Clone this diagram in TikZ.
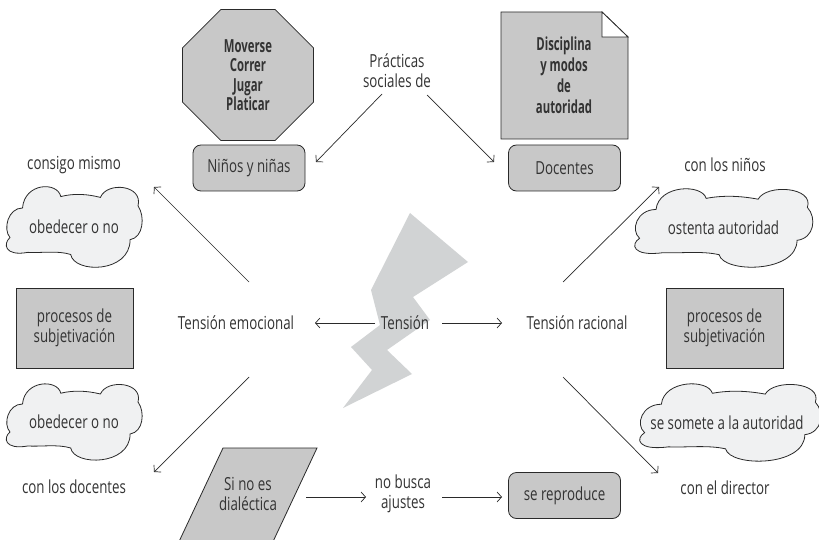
\documentclass[tikz,border=0pt]{standalone}
\usepackage{fontspec}
\setmainfont[FakeStretch=0.74, BoldFeatures={FakeStretch=0.63}]{Open Sans}
\usetikzlibrary{shapes.geometric,arrows.meta}
\definecolor{boxgray}{HTML}{C8C8C8}
\definecolor{cloudgray}{HTML}{F0F1F2}
\definecolor{boltgray}{HTML}{D1D3D4}
\definecolor{txtc}{HTML}{333333}
\definecolor{linec}{HTML}{2A2A2A}
\tikzset{
  lbl/.style={text=txtc, align=center, inner sep=0pt, font=\fontsize{18}{20}\selectfont},
  boldlbl/.style={lbl, font=\fontsize{18}{19.5}\selectfont\bfseries},
  rbox/.style={lbl, fill=boxgray, draw=linec, line width=0.8pt, rounded corners=8pt, minimum width=112pt, minimum height=46pt},
  sbox/.style={lbl, fill=boxgray, draw=linec, line width=0.8pt, minimum width=117pt, minimum height=80pt},
  octo/.style={boldlbl, regular polygon, regular polygon sides=8, minimum size=141.8pt, fill=boxgray, draw=linec, line width=0.8pt},
  arr/.style={draw=linec, line width=0.7pt, -{Straight Barb[length=4.5pt,width=10pt]}},
  shapeline/.style={fill=boxgray, draw=linec, line width=0.8pt},
  cloudline/.style={fill=cloudgray, draw=linec, line width=0.8pt}
}
\newcommand{\mycloud}[4]{%
  \begin{scope}[shift={(#1,#2)}, xscale=#3/2, yscale=#4/1.75]
    \path[cloudline] (-0.97,0.25)
      .. controls (-1.08,0.05) and (-1.0,-0.45) .. (-0.78,-0.45)
      .. controls (-0.75,-1.05) and (-0.25,-1.08) .. (-0.20,-0.72)
      .. controls (0.0,-0.80) and (0.2,-0.78) .. (0.40,-0.70)
      .. controls (0.50,-1.08) and (1.05,-1.0) .. (0.97,-0.50)
      .. controls (1.08,-0.25) and (1.05,0.25) .. (0.85,0.30)
      .. controls (0.85,1.10) and (0.0,1.10) .. (-0.05,0.65)
      .. controls (-0.25,0.55) and (-0.5,0.62) .. (-0.70,0.60)
      .. controls (-1.05,0.70) and (-1.08,0.40) .. (-0.97,0.25) -- cycle;
  \end{scope}}
\begin{document}
\begin{tikzpicture}[x=1pt,y=-1pt]
\useasboundingbox (0,0) rectangle (819,540);
\fill[white] (0,0) rectangle (819,540);
% lightning bolt
\fill[boltgray] (410,213) -- (468,262) -- (413,297) -- (430,320) -- (387,350) -- (412,374) -- (343,408) -- (372,370) -- (351,347) -- (380,325) -- (371,290) -- cycle;
% top shapes
\node[octo] (oct) at (248,75) {Moverse\\Correr\\Jugar\\Platicar};
\path[shapeline] (501,12) -- (602,12) -- (628,37) -- (628,139) -- (501,139) -- cycle;
\path[fill=white, draw=linec, line width=0.8pt] (602,12) -- (602,37) -- (628,37) -- cycle;
\node[boldlbl, font=\fontsize{18}{21}\selectfont\bfseries] (disc) at (564,75) {Disciplina\\y modos\\de\\autoridad};
\node[lbl] (prac) at (397,71) {Prácticas\\sociales de};
\node[rbox] (ninos) at (249,168) {Niños y niñas};
\node[rbox] (doc) at (564.5,168) {Docentes};
% left column
\node[lbl] (consigo) at (74,165) {consigo mismo};
\mycloud{74}{227}{132}{74}
\node[lbl] (c1) at (74,227) {obedecer o no};
\node[sbox] (p1) at (74.5,328) {procesos de\\subjetivación};
\mycloud{74}{422}{132}{70}
\node[lbl] (c2) at (74,422) {obedecer o no};
\node[lbl] (condoc) at (74,487) {con los docentes};
% middle
\node[lbl] (emo) at (236,323) {Tensión emocional};
\node[lbl] (ten) at (405,323) {Tensión};
\node[lbl] (rac) at (577,323) {Tensión racional};
% right column
\node[lbl] (conninos) at (725,165) {con los niños};
\mycloud{723.5}{228}{173}{72}
\node[lbl] (c3) at (723.5,228) {ostenta autoridad};
\node[sbox] (p2) at (724.5,328) {procesos de\\subjetivación};
\mycloud{730}{422.5}{176}{71}
\node[lbl] (c4) at (727,423) {se somete a la autoridad};
\node[lbl] (condir) at (725,488) {con el director};
% bottom
\path[shapeline] (223,448) -- (317,448) -- (270,548) -- (176,548) -- cycle;
\node[lbl] (sino) at (248,494) {Si no es\\dialéctica};
\node[lbl] (nobusca) at (403,494) {no busca\\ajustes};
\node[rbox] (repro) at (564.5,495.5) {se reproduce};
% connector end points
\coordinate (a1s) at (382,94);  \coordinate (a1e) at (316,162);
\coordinate (a2s) at (427,95);  \coordinate (a2e) at (494,162);
\coordinate (a3s) at (249,282); \coordinate (a3e) at (154,187);
\coordinate (a4s) at (249,377); \coordinate (a4e) at (154,472);
\coordinate (a5s) at (375,323); \coordinate (a5e) at (315,323);
\coordinate (a6s) at (442,323); \coordinate (a6e) at (502,323);
\coordinate (a7s) at (563,282); \coordinate (a7e) at (659,187);
\coordinate (a8s) at (563,377); \coordinate (a8e) at (658,473);
\coordinate (a9s) at (306,497); \coordinate (a9e) at (366,497);
\coordinate (a10s) at (442,497); \coordinate (a10e) at (502,497);
\foreach \i in {1,...,10} { \draw[arr] (a\i s) -- (a\i e); }
\end{tikzpicture}
\end{document}
